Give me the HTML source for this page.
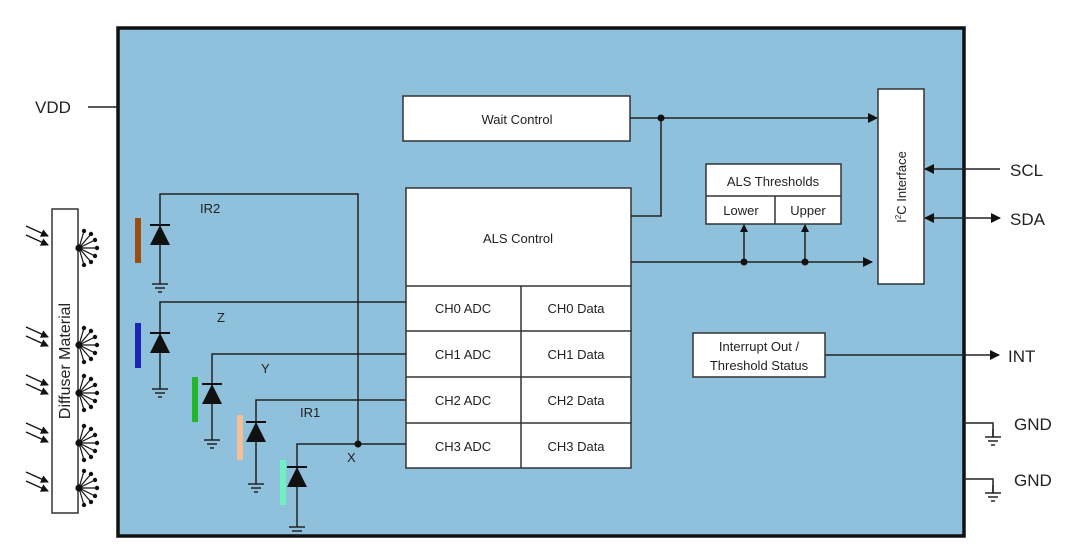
<!DOCTYPE html>
<html><head><meta charset="utf-8"><style>
body{margin:0;background:#fff}
svg{display:block}
text{font-family:"Liberation Sans",sans-serif;fill:#222}
.s{font-size:13px}
.b{font-size:17px}
</style></head><body>
<svg width="1080" height="557" viewBox="0 0 1080 557" xmlns="http://www.w3.org/2000/svg">
<defs>
<marker id="a" markerWidth="10" markerHeight="10" refX="9" refY="5" orient="auto" markerUnits="userSpaceOnUse"><path d="M0,0 L10,5 L0,10 z" fill="#111"/></marker>
<marker id="as" markerWidth="8" markerHeight="8" refX="7" refY="4" orient="auto" markerUnits="userSpaceOnUse"><path d="M0,0 L8,4 L0,8 z" fill="#111"/></marker>
<marker id="ar" markerWidth="10" markerHeight="10" refX="1" refY="5" orient="auto" markerUnits="userSpaceOnUse"><path d="M10,0 L0,5 L10,10 z" fill="#111"/></marker>
<g id="gnd"><line x1="0" y1="0" x2="0" y2="8" stroke="#222" stroke-width="1.5"/><line x1="-8" y1="8" x2="8" y2="8" stroke="#222" stroke-width="1.5"/><line x1="-5" y1="12" x2="5" y2="12" stroke="#222" stroke-width="1.5"/><line x1="-2" y1="16" x2="2" y2="16" stroke="#222" stroke-width="1.5"/></g>
<g id="dio"><line x1="-10" y1="0" x2="10" y2="0" stroke="#111" stroke-width="2"/><path d="M-10,20 L10,20 L0,0 z" fill="#111"/></g>
<g id="burst" stroke="#111" stroke-width="1.2" fill="#111">
<line x1="0" y1="0" x2="12" y2="-14"/><line x1="0" y1="0" x2="16" y2="-8"/><line x1="0" y1="0" x2="18" y2="0"/><line x1="0" y1="0" x2="16" y2="8"/><line x1="0" y1="0" x2="12" y2="14"/><line x1="0" y1="0" x2="5" y2="-17"/><line x1="0" y1="0" x2="5" y2="17"/>
<circle cx="12" cy="-14" r="1.6"/><circle cx="16" cy="-8" r="1.6"/><circle cx="18" cy="0" r="1.6"/><circle cx="16" cy="8" r="1.6"/><circle cx="12" cy="14" r="1.6"/><circle cx="5" cy="-17" r="1.6"/><circle cx="5" cy="17" r="1.6"/><circle cx="0" cy="0" r="3"/></g>
<g id="rays" stroke="#111" stroke-width="1.3"><line x1="-24" y1="-14" x2="-2" y2="-4" marker-end="url(#as)"/><line x1="-24" y1="-5" x2="-2" y2="5" marker-end="url(#as)"/></g>
</defs>
<rect x="118" y="28" width="846" height="508" fill="#8fc0dc" stroke="#111" stroke-width="3.5"/>
<!-- VDD -->
<text x="35" y="113" class="b">VDD</text>
<line x1="88" y1="107" x2="118" y2="107" stroke="#222" stroke-width="1.5"/>
<!-- diffuser -->
<rect x="52" y="209" width="26" height="304" fill="#fff" stroke="#333" stroke-width="1.5"/>
<text transform="translate(70,361) rotate(-90)" text-anchor="middle" style="font-size:16px">Diffuser Material</text>
<use href="#rays" x="50" y="240"/><use href="#rays" x="50" y="341"/><use href="#rays" x="50" y="389"/><use href="#rays" x="50" y="437"/><use href="#rays" x="50" y="486"/>
<use href="#burst" x="79" y="248"/><use href="#burst" x="79" y="345"/><use href="#burst" x="79" y="393"/><use href="#burst" x="79" y="443"/><use href="#burst" x="79" y="488"/>
<!-- color bars -->
<rect x="135" y="218" width="6" height="45" fill="#9c4c10"/>
<rect x="135" y="323" width="6" height="45" fill="#1a25b0"/>
<rect x="192" y="377" width="6" height="45" fill="#22b72a"/>
<rect x="237" y="415" width="6" height="45" fill="#f6bf95"/>
<rect x="280" y="460" width="6" height="45" fill="#6ff1c4"/>
<!-- wires -->
<g stroke="#222" stroke-width="1.5" fill="none">
<polyline points="160,276 160,194 358,194 358,444"/>
<polyline points="160,381 160,302 406,302"/>
<polyline points="212,432 212,354 406,354"/>
<polyline points="256,476 256,400 406,400"/>
<polyline points="297,519 297,444 406,444"/>
</g>
<circle cx="358" cy="444" r="3.5" fill="#111"/>
<use href="#dio" x="160" y="225"/><use href="#gnd" x="160" y="276"/>
<use href="#dio" x="160" y="333"/><use href="#gnd" x="160" y="381"/>
<use href="#dio" x="212" y="384"/><use href="#gnd" x="212" y="432"/>
<use href="#dio" x="256" y="422"/><use href="#gnd" x="256" y="476"/>
<use href="#dio" x="297" y="467"/><use href="#gnd" x="297" y="519"/>
<text x="200" y="213" class="s">IR2</text>
<text x="217" y="322" class="s">Z</text>
<text x="261" y="373" class="s">Y</text>
<text x="300" y="417" class="s">IR1</text>
<text x="347" y="462" class="s">X</text>
<!-- Wait control -->
<rect x="403" y="96" width="227" height="45" fill="#fff" stroke="#333" stroke-width="1.5"/>
<text x="517" y="124" class="s" text-anchor="middle">Wait Control</text>
<!-- ALS control -->
<rect x="406" y="188" width="225" height="280" fill="#fff" stroke="#333" stroke-width="1.5"/>
<text x="518" y="243" class="s" text-anchor="middle">ALS Control</text>
<g stroke="#333" stroke-width="1.5">
<line x1="406" y1="286" x2="631" y2="286"/><line x1="406" y1="331" x2="631" y2="331"/><line x1="406" y1="377" x2="631" y2="377"/><line x1="406" y1="423" x2="631" y2="423"/><line x1="521" y1="286" x2="521" y2="468"/>
</g>
<g class="s" text-anchor="middle">
<text x="463" y="313" class="s">CH0 ADC</text><text x="576" y="313" class="s">CH0 Data</text>
<text x="463" y="359" class="s">CH1 ADC</text><text x="576" y="359" class="s">CH1 Data</text>
<text x="463" y="405" class="s">CH2 ADC</text><text x="576" y="405" class="s">CH2 Data</text>
<text x="463" y="451" class="s">CH3 ADC</text><text x="576" y="451" class="s">CH3 Data</text>
</g>
<!-- connections right -->
<g stroke="#222" stroke-width="1.5" fill="none">
<line x1="630" y1="118" x2="877" y2="118" marker-end="url(#a)"/>
<polyline points="661,118 661,216 631,216"/>
<line x1="631" y1="262" x2="872" y2="262" marker-end="url(#a)"/>
<line x1="744" y1="262" x2="744" y2="225" marker-end="url(#as)"/>
<line x1="805" y1="262" x2="805" y2="225" marker-end="url(#as)"/>
<line x1="1000" y1="169" x2="925" y2="169" marker-end="url(#a)"/>
<line x1="925" y1="218" x2="1000" y2="218" marker-start="url(#ar)" marker-end="url(#a)"/>
<line x1="825" y1="355" x2="999" y2="355" marker-end="url(#a)"/>
<polyline points="964,423 993,423 993,437"/>
<polyline points="964,479 993,479 993,493"/>
</g>
<circle cx="661" cy="118" r="3.5" fill="#111"/>
<circle cx="744" cy="262" r="3.5" fill="#111"/>
<circle cx="805" cy="262" r="3.5" fill="#111"/>
<use href="#gnd" x="993" y="429"/><use href="#gnd" x="993" y="485"/>
<!-- thresholds -->
<rect x="706" y="164" width="135" height="60" fill="#fff" stroke="#333" stroke-width="1.5"/>
<line x1="706" y1="196" x2="841" y2="196" stroke="#333" stroke-width="1.5"/>
<line x1="775" y1="196" x2="775" y2="224" stroke="#333" stroke-width="1.5"/>
<text x="773" y="186" class="s" text-anchor="middle">ALS Thresholds</text>
<text x="741" y="215" class="s" text-anchor="middle">Lower</text>
<text x="808" y="215" class="s" text-anchor="middle">Upper</text>
<!-- I2C -->
<rect x="878" y="89" width="46" height="195" fill="#fff" stroke="#333" stroke-width="1.5"/>
<text transform="translate(906,187) rotate(-90)" class="s" text-anchor="middle">I<tspan dy="-5" style="font-size:8px">2</tspan><tspan dy="5">C Interface</tspan></text>
<!-- interrupt -->
<rect x="693" y="333" width="132" height="44" fill="#fff" stroke="#333" stroke-width="1.5"/>
<text x="759" y="351" class="s" text-anchor="middle">Interrupt Out /</text>
<text x="759" y="370" class="s" text-anchor="middle">Threshold Status</text>
<text x="1010" y="176" class="b">SCL</text>
<text x="1010" y="225" class="b">SDA</text>
<text x="1008" y="362" class="b">INT</text>
<text x="1014" y="430" class="b">GND</text>
<text x="1014" y="486" class="b">GND</text>
</svg>
</body></html>
